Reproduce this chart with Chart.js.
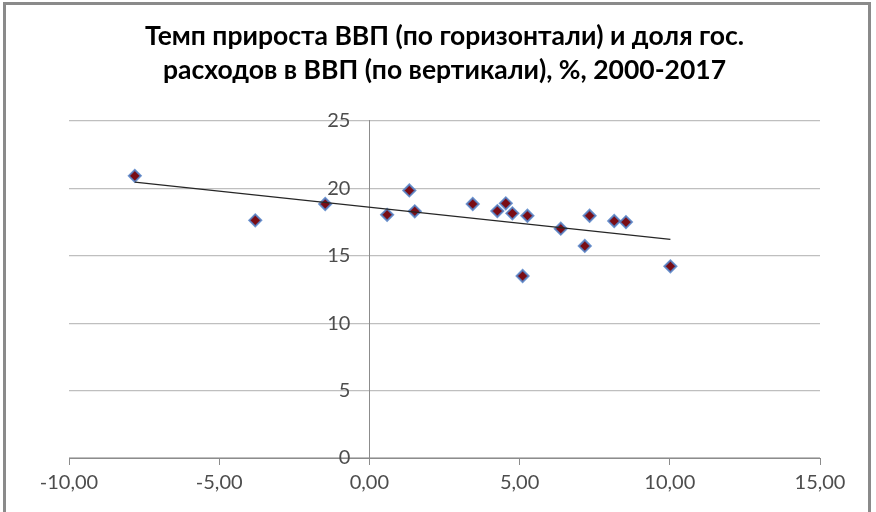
<!DOCTYPE html>
<html>
<head>
<meta charset="utf-8">
<script src="https://cdn.jsdelivr.net/npm/chart.js@4/dist/chart.umd.min.js"></script>
<style>
  body { margin: 0; background: #fff; }
  #wrap { position: relative; width: 876px; height: 512px; overflow: hidden; }
  #frame { position: absolute; left: 3px; top: 2px; width: 868px; height: 530px; border: 3px solid #8a8a8a; box-sizing: border-box; pointer-events: none; }
  canvas { position: absolute; left: 0; top: 0; }
</style>
</head>
<body>
<div id="wrap">
  <canvas id="chart" width="876" height="512"></canvas>
  <div id="frame"></div>
</div>
<script>
// GDP growth rate, % (horizontal) and government spending share of GDP, % (vertical), 2000-2017
const gdpGrowth = [-7.81, -3.80, -1.47, 0.59, 1.33, 1.51, 3.44, 4.26, 4.54, 4.76, 5.26, 5.10, 6.37, 7.17, 7.33, 8.15, 8.54, 10.02];
const govShare  = [20.93, 17.63, 18.84, 18.04, 19.85, 18.30, 18.84, 18.32, 18.89, 18.15, 17.97, 13.50, 17.01, 15.73, 17.97, 17.58, 17.50, 14.22];
const xTicks = [-10, -5, 0, 5, 10, 15];
const yTicks = [0, 5, 10, 15, 20, 25];
const titleLines = ["Темп прироста ВВП (по горизонтали) и доля гос.", "расходов в ВВП (по вертикали), %, 2000-2017"];

const points = gdpGrowth.map((x, i) => ({ x: x, y: govShare[i] }));

// linear trend (least squares)
const n = gdpGrowth.length;
const mx = gdpGrowth.reduce((a, b) => a + b, 0) / n;
const my = govShare.reduce((a, b) => a + b, 0) / n;
let sxy = 0, sxx = 0;
for (let i = 0; i < n; i++) {
  sxy += (gdpGrowth[i] - mx) * (govShare[i] - my);
  sxx += (gdpGrowth[i] - mx) * (gdpGrowth[i] - mx);
}
const slope = sxy / sxx;
const icept = my - slope * mx;
const xMin = Math.min(...gdpGrowth), xMax = Math.max(...gdpGrowth);
const trend = [{ x: xMin, y: icept + slope * xMin }, { x: xMax, y: icept + slope * xMax }];

const labelFont = { family: "Lato", size: 20 };
const labelColor = "#4d4d4d";

// y labels sit left of the axis crossing x=0, with a gap (chart.js ignores padding there)
const yLabels = {
  id: "yLabels",
  afterDatasetsDraw(chart) {
    const { ctx, scales: { x, y } } = chart;
    const ax = x.getPixelForValue(0);
    ctx.save();
    ctx.font = labelFont.size + "px " + labelFont.family;
    ctx.fillStyle = labelColor;
    ctx.textAlign = "right";
    ctx.textBaseline = "middle";
    y.ticks.forEach(t => {
      ctx.fillText(String(t.value), ax - 19, y.getPixelForValue(t.value));
    });
    ctx.restore();
  }
};

new Chart(document.getElementById("chart"), {
  type: "scatter",
  data: {
    datasets: [
      {
        type: "line",
        data: trend,
        borderColor: "#262626",
        borderWidth: 1.3,
        pointRadius: 0,
        fill: false
      },
      {
        data: points,
        pointStyle: "rectRot",
        pointRadius: 6,
        backgroundColor: "#7a0c14",
        borderColor: "rgba(84,130,200,0.85)",
        borderWidth: 2
      }
    ]
  },
  options: {
    responsive: false,
    animation: false,
    devicePixelRatio: 1,
    layout: { padding: { left: 69, right: 56, top: 0, bottom: 11 } },
    plugins: {
      legend: { display: false },
      tooltip: { enabled: false },
      title: {
        display: true,
        text: titleLines,
        color: "#000",
        font: { family: "Lato", size: 26.5, weight: "bold", lineHeight: 1.283 },
        padding: { top: 19.5, bottom: 33.5 }
      }
    },
    scales: {
      x: {
        type: "linear",
        position: "bottom",
        min: -10,
        max: 15,
        afterBuildTicks: s => { s.ticks = xTicks.map(v => ({ value: v })); },
        ticks: {
          color: labelColor,
          font: labelFont,
          padding: 6,
          maxRotation: 0,
          callback: v => v.toFixed(2).replace(".", ",")
        },
        grid: { drawOnChartArea: false, drawTicks: true, tickLength: 7, color: "#8c8c8c", lineWidth: 1 },
        border: { color: "#8c8c8c", width: 1 }
      },
      y: {
        type: "linear",
        position: { x: 0 },
        min: 0,
        max: 25,
        afterBuildTicks: s => { s.ticks = yTicks.map(v => ({ value: v })); },
        ticks: { display: false },
        grid: { color: "#bfbfbf", lineWidth: 1.2, drawTicks: false },
        border: { color: "#8c8c8c", width: 1 }
      }
    }
  },
  plugins: [yLabels]
});
</script>
</body>
</html>
